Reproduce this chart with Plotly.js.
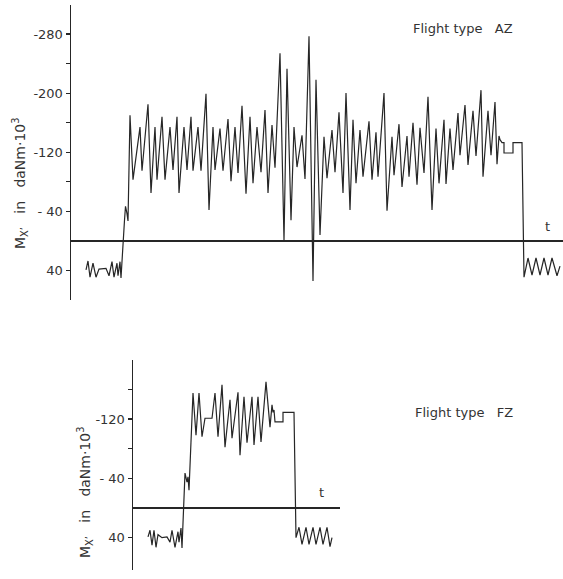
<!DOCTYPE html>
<html>
<head>
<meta charset="utf-8">
<script src="https://cdn.plot.ly/plotly-3.0.1.min.js"></script>
<style>
html,body{margin:0;padding:0;background:#fff;}
#chart{width:563px;height:579px;}
</style>
</head>
<body>
<div id="chart"></div>
<script>
// Flight type AZ: time (arbitrary units) and Mx' (daNm·10^3, negative plotted upward)
const tAZ = [15,17,19,22,25,28,35,38,41,43,46,47,49,50,
  53.5,54.5,56,57,59,
  62,69,71,77,80,84,86,91,94,99,102,106,108,113,116,120,122,127,130,135,138,142,144,149,152,157,160,164,167,171,175,179,182,186,190,194,197,201,204,
  209,213,216,220,223,226,231,234,238,242,245,249,253,256,261,264,268,272,275,279,282,285,289,292,298,301,305,307,313,316,321,323,328,331,336,338,342,346,349,353,357,361,365,368,373,375,379,382,387,389,394,397,402,405,410,412,417,420,424,426,428,429,431,433,433,442,442,451,453,
  457,461,465,469,473,477,481,486,489];
const mAZ = [39,27,49,30,49,38,37,47,28,49,30,47,28,50,
  -28,-47,-37,-27,-170,
  -83,-154,-95,-185,-65,-154,-83,-168,-83,-154,-96,-168,-65,-154,-96,-168,-95,-154,-95,-199,-42,-154,-96,-152,-95,-165,-81,-154,-92,-183,-64,-168,-78,-154,-93,-177,-65,-157,-99,
  -254,-1,-233,-28,-154,-100,-143,-84,-277,54,-218,-8,-141,-85,-150,-93,-174,-65,-200,-42,-164,-78,-150,-87,-162,-83,-147,-87,-200,-41,-141,-89,-158,-73,-142,-87,-160,-76,-153,-92,-195,-42,-152,-78,-164,-77,-152,-96,-173,-116,-184,-103,-176,-115,-204,-87,-176,-116,-188,-104,-142,-137,-133,-133,-119,-119,-133,-133,49,
  23,46,23,46,23,46,23,47,34];

// Flight type FZ
const tFZ = [15,17,19,21,23,25,29,34,37,39,42,45,46,48,49,
  52,54,55,56,60,
  63,66,69,72,79,82,85,89,92,97,99,105,107,111,114,119,121,125,128,133,137,139,140,141,142,150,150,161,163,
  166,169,173,176,180,183,187,190,194,197,199];
const mFZ = [39,30,50,30,53,36,40,39,46,30,53,32,46,27,54,
  -47,-35,-42,-24,-155,
  -98,-155,-96,-121,-121,-155,-96,-166,-82,-146,-94,-156,-71,-150,-88,-150,-85,-150,-89,-170,-109,-139,-129,-132,-116,-116,-129,-129,40,
  26,49,26,49,26,49,26,49,26,52,40];

const tickValsAZ = [-280,-200,-120,-40,40];
const tickTextAZ = ['-280','-200','-120','- 40','40'];
const minorValsAZ = [-240,-160,-80];
const tickValsFZ = [-120,-40,40];
const tickTextFZ = ['-120','- 40','40'];
const minorValsFZ = [-160,-80];

const ink = '#262626';
const font = {family: 'DejaVu Sans, sans-serif', size: 13, color: '#333'};
const titleFont = {family: 'DejaVu Sans, sans-serif', size: 14, color: '#333'};

const traces = [
  {x: tAZ, y: mAZ, xaxis: 'x', yaxis: 'y', type: 'scatter', mode: 'lines',
   line: {color: ink, width: 1.2}, hoverinfo: 'skip', showlegend: false},
  {x: tFZ, y: mFZ, xaxis: 'x2', yaxis: 'y2', type: 'scatter', mode: 'lines',
   line: {color: ink, width: 1.2}, hoverinfo: 'skip', showlegend: false}
];

const hiddenX = {showgrid: false, zeroline: false, showline: false, showticklabels: false, ticks: ''};
const yBase = {showgrid: false, showline: true, linecolor: ink, linewidth: 1.5,
  zeroline: true, zerolinecolor: ink, zerolinewidth: 2,
  ticks: 'outside', ticklen: 4, tickcolor: ink, tickwidth: 1.2,
  tickfont: font, tickmode: 'array'};

const yTitle = 'M<sub>X’</sub>&nbsp;&nbsp; in&nbsp;&nbsp; daNm·10<sup>3</sup>';

const layout = {
  width: 563, height: 579,
  margin: {l: 0, r: 0, t: 0, b: 0},
  paper_bgcolor: '#fff', plot_bgcolor: 'rgba(0,0,0,0)',
  xaxis: Object.assign({domain: [71/563, 1], range: [0, 492], anchor: 'y'}, hiddenX),
  yaxis: Object.assign({domain: [1-300/579, 1-5/579], range: [79.8, -319.2], anchor: 'x',
    tickvals: tickValsAZ, ticktext: tickTextAZ,
    minor: {tickmode: 'array', tickvals: minorValsAZ, ticks: 'outside', ticklen: 4, tickcolor: ink, tickwidth: 1.2, showgrid: false}}, yBase),
  xaxis2: Object.assign({domain: [133/563, 340/563], range: [0, 207], anchor: 'y2'}, hiddenX),
  yaxis2: Object.assign({domain: [1-570/579, 1-360/579], range: [83.6, -199.5], anchor: 'x2',
    tickvals: tickValsFZ, ticktext: tickTextFZ,
    minor: {tickmode: 'array', tickvals: minorValsFZ, ticks: 'outside', ticklen: 4, tickcolor: ink, tickwidth: 1.2, showgrid: false}}, yBase),
  annotations: [
    {text: 'Flight type&nbsp;&nbsp; AZ', xref: 'paper', yref: 'paper', x: 463/563, y: 1-28/579,
     xanchor: 'center', yanchor: 'middle', showarrow: false, font: font},
    {text: 'Flight type&nbsp;&nbsp; FZ', xref: 'paper', yref: 'paper', x: 464/563, y: 1-412/579,
     xanchor: 'center', yanchor: 'middle', showarrow: false, font: font},
    {text: 't', xref: 'paper', yref: 'paper', x: 547/563, y: 1-226/579,
     xanchor: 'center', yanchor: 'middle', showarrow: false, font: font},
    {text: 't', xref: 'paper', yref: 'paper', x: 321/563, y: 1-492/579,
     xanchor: 'center', yanchor: 'middle', showarrow: false, font: font},
    {text: yTitle, xref: 'paper', yref: 'paper',
     x: 20/563, y: 1-184/579, xanchor: 'center', yanchor: 'middle', textangle: -90,
     showarrow: false, font: titleFont},
    {text: yTitle, xref: 'paper', yref: 'paper',
     x: 85/563, y: 1-493/579, xanchor: 'center', yanchor: 'middle', textangle: -90,
     showarrow: false, font: titleFont}
  ]
};

Plotly.newPlot('chart', traces, layout, {staticPlot: true, displayModeBar: false});
</script>
</body>
</html>
